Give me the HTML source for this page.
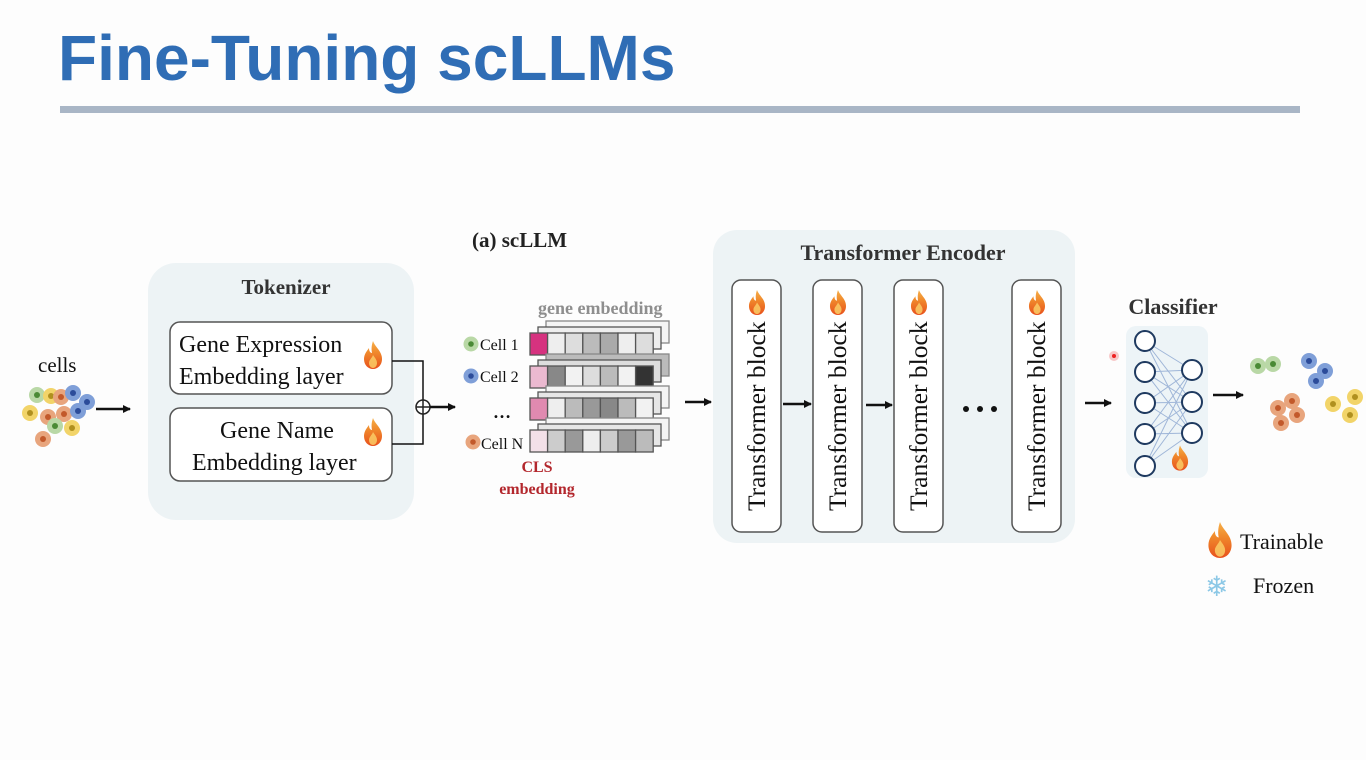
<!DOCTYPE html>
<html><head><meta charset="utf-8"><style>
html,body{margin:0;padding:0;background:#fdfdfd;}
svg{display:block}
</style></head><body>
<svg width="1366" height="760" viewBox="0 0 1366 760" xmlns="http://www.w3.org/2000/svg">
<defs>
<linearGradient id="fg" x1="0" y1="1" x2="0" y2="0">
<stop offset="0" stop-color="#e8501c"/><stop offset="0.6" stop-color="#f08a2c"/><stop offset="1" stop-color="#f6b04a"/></linearGradient>
<symbol id="fl" viewBox="0 0 20 28">
<path d="M10 0 C12 6 19 10 19 18 C19 24 15 28 10 28 C5 28 1 24 1 18 C1 13 4 10 6 7 C6 11 8 12 9 12 C8 7 9 3 10 0Z" fill="url(#fg)"/>
<path d="M10 14 C12 17 14 19 14 22 C14 25 12 27 10 27 C8 27 6 25 6 22 C6 19 9 17 10 14Z" fill="#fbd36a" opacity="0.8"/>
</symbol>
<marker id="ar" markerWidth="8" markerHeight="8" refX="7" refY="4" orient="auto" markerUnits="userSpaceOnUse"><path d="M0 0 L8 4 L0 8Z" fill="#111"/></marker>
</defs>

<text x="58" y="80" font-family="Liberation Sans, sans-serif" font-weight="bold" font-size="64" fill="#2f6db5">Fine-Tuning scLLMs</text>
<rect x="60" y="106" width="1240" height="7" fill="#a9b6c6"/>

<!-- cells left -->
<text x="38" y="372" font-family="Liberation Serif, serif" font-size="21" fill="#111">cells</text>
<g>
<circle cx="37" cy="395" r="8" fill="#b9d8a6"/><circle cx="37" cy="395" r="3" fill="#4a8a35"/>
<circle cx="51" cy="396" r="8" fill="#f2d469"/><circle cx="51" cy="396" r="3" fill="#b0901f"/>
<circle cx="61" cy="397" r="8" fill="#e8a57d"/><circle cx="61" cy="397" r="3" fill="#c2592b"/>
<circle cx="73" cy="393" r="8" fill="#7f9fd8"/><circle cx="73" cy="393" r="3" fill="#2c4c9a"/>
<circle cx="87" cy="402" r="8" fill="#7f9fd8"/><circle cx="87" cy="402" r="3" fill="#2c4c9a"/>
<circle cx="30" cy="413" r="8" fill="#f2d469"/><circle cx="30" cy="413" r="3" fill="#b0901f"/>
<circle cx="48" cy="417" r="8" fill="#e8a57d"/><circle cx="48" cy="417" r="3" fill="#c2592b"/>
<circle cx="64" cy="414" r="8" fill="#e8a57d"/><circle cx="64" cy="414" r="3" fill="#c2592b"/>
<circle cx="78" cy="411" r="8" fill="#7f9fd8"/><circle cx="78" cy="411" r="3" fill="#2c4c9a"/>
<circle cx="55" cy="426" r="8" fill="#b9d8a6"/><circle cx="55" cy="426" r="3" fill="#4a8a35"/>
<circle cx="72" cy="428" r="8" fill="#f2d469"/><circle cx="72" cy="428" r="3" fill="#b0901f"/>
<circle cx="43" cy="439" r="8" fill="#e8a57d"/><circle cx="43" cy="439" r="3" fill="#c2592b"/>
</g>
<line x1="96" y1="409" x2="130" y2="409" stroke="#111" stroke-width="2.5" marker-end="url(#ar)"/>

<!-- Tokenizer -->
<rect x="148" y="263" width="266" height="257" rx="28" fill="#edf3f5"/>
<text x="286" y="294" text-anchor="middle" font-family="Liberation Serif, serif" font-weight="bold" font-size="21" fill="#333">Tokenizer</text>
<rect x="170" y="322" width="222" height="72" rx="10" fill="#fff" stroke="#555" stroke-width="1.5"/>
<text x="179" y="352" font-family="Liberation Serif, serif" font-size="24" fill="#111">Gene Expression</text>
<text x="179" y="384" font-family="Liberation Serif, serif" font-size="24" fill="#111">Embedding layer</text>
<use href="#fl" x="363" y="341" width="20" height="28"/>
<rect x="170" y="408" width="222" height="73" rx="10" fill="#fff" stroke="#555" stroke-width="1.5"/>
<text x="220" y="438" font-family="Liberation Serif, serif" font-size="24" fill="#111">Gene Name</text>
<text x="192" y="470" font-family="Liberation Serif, serif" font-size="24" fill="#111">Embedding layer</text>
<use href="#fl" x="363" y="418" width="20" height="28"/>
<path d="M392 361 H423 V444 H392" fill="none" stroke="#111" stroke-width="1.5"/>
<circle cx="423" cy="407" r="7" fill="#fff" stroke="#222" stroke-width="1.5"/>
<line x1="416" y1="407" x2="430" y2="407" stroke="#222" stroke-width="1.5"/>
<line x1="423" y1="400" x2="423" y2="414" stroke="#222" stroke-width="1.5"/>
<line x1="430" y1="407" x2="455" y2="407" stroke="#111" stroke-width="2.5" marker-end="url(#ar)"/>

<!-- (a) scLLM -->
<text x="472" y="247" font-family="Liberation Serif, serif" font-weight="bold" font-size="21" fill="#222">(a) scLLM</text>
<text x="538" y="314" font-family="Liberation Serif, serif" font-weight="bold" font-size="18" fill="#8e8e8e">gene embedding</text>

<g stroke="#555" stroke-width="1.3">
<g transform="translate(16,-12)" fill="#f4f4f4" stroke="#888"><rect x="530" y="333" width="123" height="22"/></g>
<g transform="translate(8,-6)" fill="#eee"><rect x="530" y="333" width="123" height="22"/></g>
<rect x="530" y="333" width="17.6" height="22" fill="#d6327f"/><rect x="547.6" y="333" width="17.6" height="22" fill="#eee"/><rect x="565.2" y="333" width="17.6" height="22" fill="#ddd"/><rect x="582.8" y="333" width="17.6" height="22" fill="#bbb"/><rect x="600.4" y="333" width="17.6" height="22" fill="#aaa"/><rect x="618" y="333" width="17.6" height="22" fill="#eee"/><rect x="635.6" y="333" width="17.6" height="22" fill="#ddd"/>
<g transform="translate(16,-12)" fill="#bbb" stroke="#888"><rect x="530" y="366" width="123" height="22"/></g>
<g transform="translate(8,-6)" fill="#ddd"><rect x="530" y="366" width="123" height="22"/></g>
<rect x="530" y="366" width="17.6" height="22" fill="#ebb9d0"/><rect x="547.6" y="366" width="17.6" height="22" fill="#888"/><rect x="565.2" y="366" width="17.6" height="22" fill="#f2f2f2"/><rect x="582.8" y="366" width="17.6" height="22" fill="#ddd"/><rect x="600.4" y="366" width="17.6" height="22" fill="#bbb"/><rect x="618" y="366" width="17.6" height="22" fill="#f2f2f2"/><rect x="635.6" y="366" width="17.6" height="22" fill="#333"/>
<g transform="translate(16,-12)" fill="#f4f4f4" stroke="#888"><rect x="530" y="398" width="123" height="22"/></g>
<g transform="translate(8,-6)" fill="#e6e6e6"><rect x="530" y="398" width="123" height="22"/></g>
<rect x="530" y="398" width="17.6" height="22" fill="#e08ab0"/><rect x="547.6" y="398" width="17.6" height="22" fill="#eee"/><rect x="565.2" y="398" width="17.6" height="22" fill="#bbb"/><rect x="582.8" y="398" width="17.6" height="22" fill="#999"/><rect x="600.4" y="398" width="17.6" height="22" fill="#888"/><rect x="618" y="398" width="17.6" height="22" fill="#bbb"/><rect x="635.6" y="398" width="17.6" height="22" fill="#f2f2f2"/>
<g transform="translate(16,-12)" fill="#f4f4f4" stroke="#888"><rect x="530" y="430" width="123" height="22"/></g>
<g transform="translate(8,-6)" fill="#e6e6e6"><rect x="530" y="430" width="123" height="22"/></g>
<rect x="530" y="430" width="17.6" height="22" fill="#f3e0e8"/><rect x="547.6" y="430" width="17.6" height="22" fill="#ccc"/><rect x="565.2" y="430" width="17.6" height="22" fill="#999"/><rect x="582.8" y="430" width="17.6" height="22" fill="#eee"/><rect x="600.4" y="430" width="17.6" height="22" fill="#ccc"/><rect x="618" y="430" width="17.6" height="22" fill="#999"/><rect x="635.6" y="430" width="17.6" height="22" fill="#bbb"/>
</g>
<circle cx="471" cy="344" r="7.5" fill="#b9d8a6"/><circle cx="471" cy="344" r="2.8" fill="#4a8a35"/>
<text x="480" y="350" font-family="Liberation Serif, serif" font-size="16" fill="#111">Cell 1</text>
<circle cx="471" cy="376" r="7.5" fill="#7f9fd8"/><circle cx="471" cy="376" r="2.8" fill="#2c4c9a"/>
<text x="480" y="382" font-family="Liberation Serif, serif" font-size="16" fill="#111">Cell 2</text>
<text x="493" y="418" font-family="Liberation Serif, serif" font-weight="bold" font-size="18" fill="#111">…</text>
<circle cx="473" cy="442" r="7.5" fill="#e8a57d"/><circle cx="473" cy="442" r="2.8" fill="#c2592b"/>
<text x="481" y="449" font-family="Liberation Serif, serif" font-size="16" fill="#111">Cell N</text>
<text x="537" y="472" text-anchor="middle" font-family="Liberation Serif, serif" font-weight="bold" font-size="16" fill="#b3272d">CLS</text>
<text x="537" y="494" text-anchor="middle" font-family="Liberation Serif, serif" font-weight="bold" font-size="16" fill="#b3272d">embedding</text>
<line x1="685" y1="402" x2="711" y2="402" stroke="#111" stroke-width="2.5" marker-end="url(#ar)"/>

<!-- Transformer Encoder -->
<rect x="713" y="230" width="362" height="313" rx="24" fill="#edf3f5"/>
<text x="903" y="260" text-anchor="middle" font-family="Liberation Serif, serif" font-weight="bold" font-size="22" fill="#333">Transformer Encoder</text>
<g font-family="Liberation Serif, serif" font-size="25.5" fill="#111">
<rect x="732" y="280" width="49" height="252" rx="9" fill="#fff" stroke="#555" stroke-width="1.5"/>
<text transform="translate(765,511) rotate(-90)">Transformer block</text>
<use href="#fl" x="748" y="290" width="18" height="25"/>
<rect x="813" y="280" width="49" height="252" rx="9" fill="#fff" stroke="#555" stroke-width="1.5"/>
<text transform="translate(846,511) rotate(-90)">Transformer block</text>
<use href="#fl" x="829" y="290" width="18" height="25"/>
<rect x="894" y="280" width="49" height="252" rx="9" fill="#fff" stroke="#555" stroke-width="1.5"/>
<text transform="translate(927,511) rotate(-90)">Transformer block</text>
<use href="#fl" x="910" y="290" width="18" height="25"/>
<rect x="1012" y="280" width="49" height="252" rx="9" fill="#fff" stroke="#555" stroke-width="1.5"/>
<text transform="translate(1045,511) rotate(-90)">Transformer block</text>
<use href="#fl" x="1028" y="290" width="18" height="25"/>
</g>
<line x1="783" y1="404" x2="811" y2="404" stroke="#111" stroke-width="2.5" marker-end="url(#ar)"/>
<line x1="866" y1="405" x2="892" y2="405" stroke="#111" stroke-width="2.5" marker-end="url(#ar)"/>
<circle cx="966" cy="409" r="3" fill="#111"/><circle cx="980" cy="409" r="3" fill="#111"/><circle cx="994" cy="409" r="3" fill="#111"/>
<line x1="1085" y1="403" x2="1111" y2="403" stroke="#111" stroke-width="2.5" marker-end="url(#ar)"/>

<!-- Classifier -->
<text x="1173" y="314" text-anchor="middle" font-family="Liberation Serif, serif" font-weight="bold" font-size="22" fill="#333">Classifier</text>
<rect x="1126" y="326" width="82" height="152" rx="10" fill="#edf4f7"/>
<circle cx="1114" cy="356" r="5" fill="#f7c8c8"/><circle cx="1114" cy="356" r="2" fill="#e22"/>
<g stroke="#9fb6d8" stroke-width="1">
<path d="M1145 341 L1192 370 M1145 341 L1192 402 M1145 341 L1192 433 M1145 372 L1192 370 M1145 372 L1192 402 M1145 372 L1192 433 M1145 403 L1192 370 M1145 403 L1192 402 M1145 403 L1192 433 M1145 434 L1192 370 M1145 434 L1192 402 M1145 434 L1192 433 M1145 466 L1192 370 M1145 466 L1192 402 M1145 466 L1192 433"/>
</g>
<g fill="#fff" stroke="#1f3a60" stroke-width="2">
<circle cx="1145" cy="341" r="10"/><circle cx="1145" cy="372" r="10"/><circle cx="1145" cy="403" r="10"/><circle cx="1145" cy="434" r="10"/><circle cx="1145" cy="466" r="10"/>
<circle cx="1192" cy="370" r="10"/><circle cx="1192" cy="402" r="10"/><circle cx="1192" cy="433" r="10"/>
</g>
<use href="#fl" x="1171" y="445" width="18" height="26"/>
<line x1="1213" y1="395" x2="1243" y2="395" stroke="#111" stroke-width="2.5" marker-end="url(#ar)"/>

<!-- output clusters -->
<g>
<circle cx="1258" cy="366" r="8" fill="#b9d8a6"/><circle cx="1258" cy="366" r="3" fill="#4a8a35"/>
<circle cx="1273" cy="364" r="8" fill="#b9d8a6"/><circle cx="1273" cy="364" r="3" fill="#4a8a35"/>
<circle cx="1309" cy="361" r="8" fill="#7f9fd8"/><circle cx="1309" cy="361" r="3" fill="#2c4c9a"/>
<circle cx="1325" cy="371" r="8" fill="#7f9fd8"/><circle cx="1325" cy="371" r="3" fill="#2c4c9a"/>
<circle cx="1316" cy="381" r="8" fill="#7f9fd8"/><circle cx="1316" cy="381" r="3" fill="#2c4c9a"/>
<circle cx="1292" cy="401" r="8" fill="#e8a57d"/><circle cx="1292" cy="401" r="3" fill="#c2592b"/>
<circle cx="1278" cy="408" r="8" fill="#e8a57d"/><circle cx="1278" cy="408" r="3" fill="#c2592b"/>
<circle cx="1297" cy="415" r="8" fill="#e8a57d"/><circle cx="1297" cy="415" r="3" fill="#c2592b"/>
<circle cx="1281" cy="423" r="8" fill="#e8a57d"/><circle cx="1281" cy="423" r="3" fill="#c2592b"/>
<circle cx="1333" cy="404" r="8" fill="#f2d469"/><circle cx="1333" cy="404" r="3" fill="#b0901f"/>
<circle cx="1355" cy="397" r="8" fill="#f2d469"/><circle cx="1355" cy="397" r="3" fill="#b0901f"/>
<circle cx="1350" cy="415" r="8" fill="#f2d469"/><circle cx="1350" cy="415" r="3" fill="#b0901f"/>
</g>

<!-- legend -->
<use href="#fl" x="1207" y="522" width="26" height="36"/>
<text x="1240" y="549" font-family="Liberation Serif, serif" font-size="22" fill="#111">Trainable</text>
<text x="1205" y="596" font-family="DejaVu Sans, sans-serif" font-size="28" fill="#8cc8e6">❄</text>
<text x="1253" y="593" font-family="Liberation Serif, serif" font-size="22" fill="#111">Frozen</text>
</svg>
</body></html>
